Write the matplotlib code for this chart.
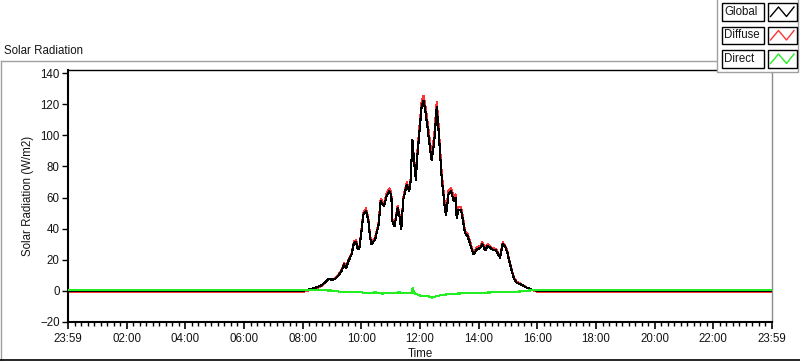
import matplotlib
matplotlib.use("Agg")
import matplotlib.pyplot as plt
from matplotlib.lines import Line2D
from matplotlib.patches import Rectangle
from matplotlib.ticker import AutoMinorLocator, FixedLocator, FixedFormatter

plt.rcParams['font.family'] = ['Liberation Sans', 'DejaVu Sans']

# ---------------- data (hours after the 23:59 start) ----------------
time_h = [0.0, 8.0, 8.25, 8.47, 8.65, 8.76, 8.88, 8.99, 9.10, 9.22, 9.33, 9.41, 9.48, 9.56,
          9.67, 9.75, 9.82, 9.88, 9.93, 9.99, 10.07, 10.16, 10.24, 10.30, 10.35, 10.47,
          10.59, 10.66, 10.77, 10.86, 10.95, 11.02, 11.06, 11.13, 11.24, 11.30, 11.36,
          11.43, 11.55, 11.63, 11.68, 11.74, 11.80, 11.86, 11.90, 11.98, 12.06, 12.12,
          12.18, 12.26, 12.34, 12.40, 12.49, 12.57, 12.63, 12.68, 12.74, 12.80, 12.85,
          12.89, 12.97, 13.06, 13.15, 13.21, 13.25, 13.31, 13.40, 13.47, 13.53, 13.62,
          13.71, 13.82, 13.94, 14.05, 14.13, 14.22, 14.31, 14.45, 14.59, 14.73, 14.82,
          14.90, 14.98, 15.04, 15.13, 15.21, 15.30, 15.47, 15.64, 15.81, 16.0, 24.0]

global_rad = [0, 0, 1.0, 2.3, 3.6, 5.5, 7.8, 7.2, 7.6, 10, 12.8, 17, 14.5, 19.2,
              23.5, 31, 31.5, 26.7, 27, 36, 49, 51.5, 45, 34, 30, 33,
              42.7, 57.6, 54.4, 60.8, 64, 62, 44.8, 41.6, 53.3, 48, 39.5,
              58.7, 68.3, 64, 70.4, 97, 83, 71.5, 85, 102, 119.5, 122,
              116, 104.5, 91.7, 84, 97, 118, 104, 89.6, 72.5, 61.9, 52.3,
              49, 62, 64, 58, 60, 47, 52, 52, 44.8, 37.3, 35.2,
              30, 23.5, 26.7, 27.5, 30, 26, 29, 26.7, 26, 21.3, 30.3,
              28.5, 24.5, 19.2, 12.8, 7.5, 5.3, 3.8, 2.1, 0.8, 0, 0]

diffuse_rad = [-0.6, -0.6, 0.5, 1.8, 3.2, 5.3, 7.8, 7.4, 8.0, 10.5, 13.5, 17.8, 15.3, 20.0,
               24.4, 32, 32.5, 27.6, 28, 37, 50.3, 53, 46.3, 35.2, 31.2, 34.2,
               44, 59.2, 56, 62.5, 65.8, 63.5, 46, 42.8, 54.5, 49.2, 40.7,
               60, 69.8, 65.5, 71.9, 95.5, 84.5, 73.5, 87.5, 105, 122.5, 125.5,
               119.5, 108, 95.5, 88, 101, 121.5, 107.5, 92.5, 75.3, 64.5, 54.8,
               51.5, 64.5, 66.2, 60, 62, 49, 54, 53.8, 46.5, 38.8, 36.7,
               31.4, 24.8, 28, 28.8, 31.3, 27.2, 30.2, 27.8, 27, 22.2, 31.2,
               29.3, 25.2, 19.9, 13.4, 8.1, 5.8, 4.1, 2.1, 0.6, -0.6, -0.6]

direct_time_h = [0.0, 7.2, 8.5, 9.0, 9.3, 10.0, 10.1, 10.5, 10.7, 11.0, 11.3, 11.6, 11.72,
                 11.75, 11.8, 12.0, 12.3, 12.4, 12.55, 12.7, 13.0, 13.3, 13.6, 14.0, 14.4,
                 14.8, 15.2, 15.5, 15.7, 16.0, 24.0]
direct_rad = [0.6, 0.6, 0.5, 0.2, -0.6, -0.8, -1.3, -1.0, -1.7, -1.3, -1.0, -1.5, -1.3,
              1.7, -1.5, -3.0, -3.5, -4.3, -3.5, -2.8, -2.0, -1.7, -1.5, -1.3, -1.0,
              -0.8, -0.6, -0.3, 0.2, 0.6, 0.6]

x_tick_labels = ["23:59", "02:00", "04:00", "06:00", "08:00", "10:00", "12:00",
                 "14:00", "16:00", "18:00", "20:00", "22:00", "23:59"]
series_names = ["Global", "Diffuse", "Direct"]
series_colors = ["#000000", "#ff3333", "#22ee22"]

# ---------------- figure ----------------
W, H = 800, 361
fig = plt.figure(figsize=(W / 100, H / 100), dpi=100)
FS = 8.3

def fx(x):
    return x / W

def fy(y):
    return 1 - y / H

ax = fig.add_axes([fx(68), fy(322), fx(772) - fx(68), fy(70) - fy(322)])
ax.plot(time_h, diffuse_rad, color=series_colors[1], lw=0.8, zorder=2, antialiased=False)
ax.plot(time_h, global_rad, color=series_colors[0], lw=0.8, zorder=3, antialiased=False)
ax.plot(direct_time_h, direct_rad, color=series_colors[2], lw=0.8, zorder=4, antialiased=False)

ax.set_xlim(0, 24)
ax.set_ylim(-20, 142)
ax.xaxis.set_major_locator(FixedLocator(list(range(0, 25, 2))))
ax.xaxis.set_major_formatter(FixedFormatter(x_tick_labels))
ax.xaxis.set_minor_locator(AutoMinorLocator(9))
ax.yaxis.set_major_locator(FixedLocator(list(range(-20, 141, 20))))

tc = "#141414"
ax.tick_params(axis='x', which='major', length=5, width=1.2, colors='black', labelsize=FS,
               labelcolor=tc, pad=3)
ax.tick_params(axis='x', which='minor', length=3, width=1.0, colors='black')
ax.tick_params(axis='y', which='major', length=4, width=1.0, colors='black', labelsize=FS,
               labelcolor=tc, pad=2)

for s in ['left', 'bottom']:
    ax.spines[s].set_color('black')
    ax.spines[s].set_linewidth(1.5)
ax.spines['top'].set_color('black')
ax.spines['top'].set_linewidth(1.0)
ax.spines['right'].set_color('#8c8c8c')
ax.spines['right'].set_linewidth(1.0)

ax.set_xlabel("Time", fontsize=FS, color=tc, labelpad=2)
ax.set_ylabel("Solar Radiation (W/m2)", fontsize=FS, color=tc, labelpad=4)

# title
fig.text(fx(4), fy(50.5), "Solar Radiation", fontsize=FS, color=tc, ha='left', va='center')

# outer frame
fig.add_artist(Line2D([fx(0.5), fx(717)], [fy(61), fy(61)], color='#a0a0a0', lw=1))
fig.add_artist(Line2D([fx(0.5), fx(0.5)], [fy(61), fy(359.5)], color='#a0a0a0', lw=1))
fig.add_artist(Line2D([fx(0), fx(800)], [fy(359.5), fy(359.5)], color='black', lw=1.2))

# legend panel
fig.add_artist(Rectangle((fx(717), fy(72)), fx(798) - fx(717), fy(-2) - fy(72),
                         transform=fig.transFigure, facecolor='white', edgecolor='#a0a0a0',
                         lw=1, zorder=5))
row_tops = [3, 26.5, 50]
row_h = 17.5
for name, col, top in zip(series_names, series_colors, row_tops):
    fig.add_artist(Rectangle((fx(721.5), fy(top + row_h)), fx(763.5) - fx(721.5),
                             fy(top) - fy(top + row_h), transform=fig.transFigure,
                             facecolor='white', edgecolor='black', lw=1, zorder=6))
    fig.text(fx(724), fy(top + row_h / 2), name, fontsize=FS, color=tc, ha='left',
             va='center', zorder=7)
    fig.add_artist(Rectangle((fx(767.5), fy(top + row_h)), fx(796.5) - fx(767.5),
                             fy(top) - fy(top + row_h), transform=fig.transFigure,
                             facecolor='white', edgecolor='black', lw=1, zorder=6))
    zx = [770.5, 778.5, 786.5, 794]
    zy = [top + row_h - 4, top + 4, top + row_h - 4, top + 4]
    fig.add_artist(Line2D([fx(v) for v in zx], [fy(v) for v in zy], color=col, lw=1,
                          zorder=7))

fig.savefig("out.png", dpi=100)
